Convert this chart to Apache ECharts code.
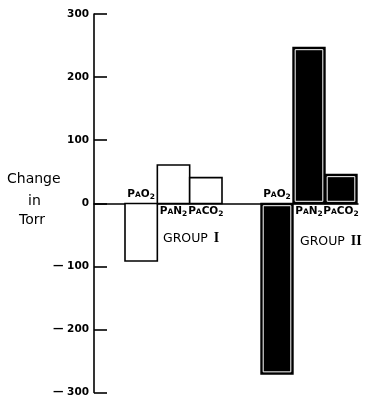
<!DOCTYPE html>
<html>
<head>
<meta charset="utf-8">
<script src="https://cdn.jsdelivr.net/npm/echarts@6/dist/echarts.min.js"></script>
<style>html,body{margin:0;padding:0;background:#fff}#c{width:366px;height:398px}</style>
</head>
<body>
<div id="c"></div>
<script>
const categories = ['PAO2', 'PAN2', 'PACO2'];
const group1 = [-91, 61, 41];
const group2 = [-270, 247, 46];
const groupNumerals = ['I', 'II'];
const yMin = -300, yMax = 300, yStep = 100;
const yTitle = ['Change', 'in', 'Torr'];

const FONT = 'DejaVu Sans';
const labelRich = {
  n: {fontFamily: FONT, fontWeight: 'bold', fontSize: 10.5, padding: [0, 0, 2, 0], verticalAlign: 'bottom'},
  sm: {fontFamily: FONT, fontWeight: 'bold', fontSize: 7.5, padding: [0, 0, 2, 0], verticalAlign: 'bottom'},
  sub: {fontFamily: FONT, fontWeight: 'bold', fontSize: 7.5, padding: [0, 0, 0, 0], verticalAlign: 'bottom'}
};
function richName(s) {
  let out = '{n|' + s[0] + '}{sm|' + s[1] + '}';
  for (let k = 2; k < s.length; k++) {
    const c = s[k];
    out += /[0-9]/.test(c) ? '{sub|' + c + '}' : '{n|' + c + '}';
  }
  return out;
}

function makeRender(filled) {
  return function (params, api) {
    const i = api.value(0), v = api.value(1);
    const p0 = api.coord([i, 0]);
    const p1 = api.coord([i, v]);
    const w = api.size([1, 0])[0];
    const x = p0[0] - w / 2;
    const y = Math.min(p0[1], p1[1]);
    const h = Math.abs(p1[1] - p0[1]);
    const children = [];
    if (filled) {
      children.push({type: 'rect', shape: {x: x, y: y, width: w, height: h}, style: {fill: '#000', stroke: '#000', lineWidth: 1.4}});
      children.push({type: 'rect', shape: {x: x + 2.2, y: y + 2.2, width: w - 4.4, height: h - 4.4}, style: {fill: '#000', stroke: '#fff', lineWidth: 1}});
    } else {
      children.push({type: 'rect', shape: {x: x, y: y, width: w, height: h}, style: {fill: '#fff', stroke: '#000', lineWidth: 1.6}});
    }
    const pos = v >= 0;
    children.push({
      type: 'text',
      z2: 10,
      style: {
        text: richName(categories[i]),
        rich: labelRich,
        x: p0[0],
        y: pos ? p0[1] + 2 : p0[1] - 2,
        align: 'center',
        verticalAlign: pos ? 'top' : 'bottom',
        fill: '#000'
      }
    });
    return {type: 'group', children: children};
  };
}

const chart = echarts.init(document.getElementById('c'), null, {renderer: 'canvas'});
const gridTop = 14, gridH = 379;
const groupRich = {
  g: {fontFamily: FONT, fontSize: 12.5, verticalAlign: 'bottom'},
  r: {fontFamily: 'Liberation Serif', fontWeight: 'bold', fontSize: 14, verticalAlign: 'bottom', padding: [0, 0, 0, 2]}
};
chart.setOption({
  animation: false,
  backgroundColor: '#fff',
  grid: [
    {left: 94, top: gridTop, width: 264, height: gridH},
    {left: 125, top: gridTop, width: 97, height: gridH},
    {left: 261, top: gridTop, width: 96, height: gridH}
  ],
  xAxis: [
    {gridIndex: 0, type: 'category', data: [''], axisLine: {show: true, lineStyle: {color: '#000', width: 1.5}}, axisTick: {show: false}, axisLabel: {show: false}, splitLine: {show: false}},
    {gridIndex: 1, type: 'category', data: categories, show: false},
    {gridIndex: 2, type: 'category', data: categories, show: false}
  ],
  yAxis: [
    {
      gridIndex: 0, type: 'value', min: yMin, max: yMax, interval: yStep,
      axisLine: {show: true, lineStyle: {color: '#000', width: 1.6}},
      axisTick: {show: true, inside: true, length: 13, lineStyle: {color: '#000', width: 1.6}},
      axisLabel: {
        margin: 5, color: '#000', fontFamily: FONT, fontWeight: 'bold', fontSize: 10.5,
        formatter: function (v) { return v < 0 ? '\u2014 ' + (-v) : String(v); }
      },
      splitLine: {show: false}
    },
    {gridIndex: 1, type: 'value', min: yMin, max: yMax, show: false, splitLine: {show: false}},
    {gridIndex: 2, type: 'value', min: yMin, max: yMax, show: false, splitLine: {show: false}}
  ],
  series: [
    {type: 'custom', xAxisIndex: 1, yAxisIndex: 1, renderItem: makeRender(false), data: group1.map((v, i) => [i, v]), encode: {x: 0, y: 1}, z: 3},
    {type: 'custom', xAxisIndex: 2, yAxisIndex: 2, renderItem: makeRender(true), data: group2.map((v, i) => [i, v]), encode: {x: 0, y: 1}, z: 3}
  ],
  graphic: [
    {type: 'text', left: 7, top: 172, style: {text: yTitle[0], font: '14px "DejaVu Sans"', fill: '#000'}},
    {type: 'text', left: 28, top: 194, style: {text: yTitle[1], font: '14px "DejaVu Sans"', fill: '#000'}},
    {type: 'text', left: 19, top: 213, style: {text: yTitle[2], font: '14px "DejaVu Sans"', fill: '#000'}},
    {type: 'text', left: 163, top: 231, style: {text: '{g|GROUP }{r|' + groupNumerals[0] + '}', rich: groupRich, fill: '#000'}},
    {type: 'text', left: 300, top: 234, style: {text: '{g|GROUP }{r|' + groupNumerals[1] + '}', rich: groupRich, fill: '#000'}}
  ]
});
</script>
</body>
</html>
